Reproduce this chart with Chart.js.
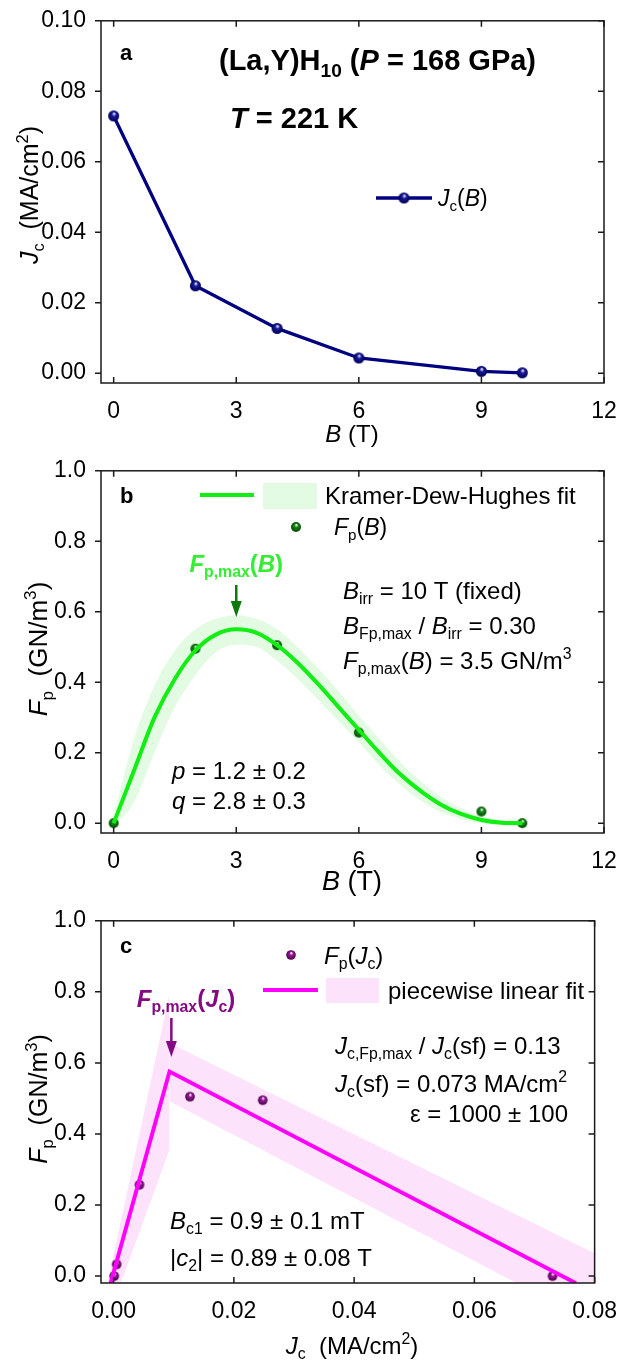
<!DOCTYPE html>
<html>
<head>
<meta charset="utf-8">
<script src="https://cdn.jsdelivr.net/npm/chart.js@4.4.1/dist/chart.umd.min.js"></script>
<style>
  html, body { margin: 0; padding: 0; background: #fff; }
  #wrap { position: relative; width: 624px; height: 1360px; }
  canvas { position: absolute; left: 0; }
</style>
</head>
<body>
<div id="wrap">
  <canvas id="chart-a" width="624" height="450" style="top:0"></canvas>
  <canvas id="chart-b" width="624" height="450" style="top:450px"></canvas>
  <canvas id="chart-c" width="624" height="460" style="top:900px"></canvas>
</div>
<script>
// measured data
const FIELD = [0, 2, 4, 6, 9, 10];
const JC = [0.073, 0.0248, 0.0127, 0.0043, 0.0005, 0.0001];
const FP = [0.0, 0.495, 0.505, 0.257, 0.033, 0.0];

// Kramer-Dew-Hughes fit curve and its band
const FIT_B = [0, 0.5, 1, 1.5, 2, 2.5, 3, 3.5, 4, 4.5, 5, 5.5, 6, 6.5, 7, 7.5, 8, 8.5, 9, 9.5, 10];
const FIT_FP = [0, 0.15, 0.3, 0.41, 0.49, 0.535, 0.55, 0.54, 0.505, 0.455, 0.395, 0.33, 0.265, 0.2, 0.14, 0.092, 0.053, 0.026, 0.009, 0.0014, 0];
const BAND_B_HI = [0.02, 0.24, 0.39, 0.49, 0.55, 0.58, 0.59, 0.58, 0.55, 0.5, 0.44, 0.375, 0.305, 0.24, 0.175, 0.12, 0.075, 0.042, 0.02, 0.008, 0.005];
const BAND_B_LO = [-0.01, 0.06, 0.2, 0.33, 0.42, 0.485, 0.506, 0.5, 0.46, 0.41, 0.35, 0.29, 0.23, 0.165, 0.11, 0.065, 0.032, 0.012, 0.0, -0.006, -0.008];

// piecewise linear fit and its band
const FIT_JC = [-0.0005, 0.0093, 0.0769];
const FIT_JC_FP = [-0.02, 0.5757, -0.02];
const RISE_JC = [-0.001, 0.0093];
const RISE_HI = [-0.02, 0.795];
const RISE_LO = [-0.122, 0.356];
const FALL_JC = [0.0093, 0.0805];
const FALL_HI = [0.656, 0.06];
const FALL_LO = [0.492, -0.139];

// tick labels
const TICKS_B = [0, 3, 6, 9, 12];
const TICKS_JC_A = [0, 0.02, 0.04, 0.06, 0.08, 0.1];
const TICKS_FP = [0, 0.2, 0.4, 0.6, 0.8, 1.0];
const TICKS_JC = [0, 0.02, 0.04, 0.06, 0.08];

const FAMILY = '"Liberation Sans", Arial, Helvetica, sans-serif';
const NAVY = '#000080';
const LIME = '#11ee11';
const GREEN_BAND = '#e3fbe3';
const MAGENTA = '#ff00ff';
const PURPLE = '#840a84';
const PINK_BAND = '#fde2fb';

const pts = (xs, ys) => xs.map((x, i) => ({ x, y: ys[i] }));

const ball = (base, dark, r) => {
  const c = document.createElement('canvas');
  const s = Math.ceil(r * 2 + 2);
  c.width = c.height = s;
  const g = c.getContext('2d');
  const m = s / 2;
  const grad = g.createRadialGradient(m + r * 0.1, m - r * 0.45, r * 0.05, m, m, r);
  grad.addColorStop(0, '#ffffff');
  grad.addColorStop(0.35, base);
  grad.addColorStop(1, dark);
  g.fillStyle = grad;
  g.beginPath();
  g.arc(m, m, r, 0, Math.PI * 2);
  g.fill();
  return c;
};

const BALL_NAVY = ball('#1a1aa0', '#000050', 5.5);
const BALL_GREEN = ball('#138a13', '#064a06', 5);
const BALL_PURPLE = ball('#9a1a9a', '#4a004a', 4.8);

// text with italics, sub- and superscripts
const drawRich = (ctx, parts, x, y, size, opt = {}) => {
  const items = parts.map(([t, s = '']) => {
    const st = s.split(' ');
    const small = st.includes('sub') || st.includes('sup');
    const fs = small ? size * 0.66 : size;
    const font = `${st.includes('i') ? 'italic ' : ''}${st.includes('b') ? 'bold ' : ''}${fs}px ${FAMILY}`;
    ctx.font = font;
    const w = ctx.measureText(t).width;
    const dy = st.includes('sub') ? size * 0.22 : st.includes('sup') ? -size * 0.42 : 0;
    return { t, font, w, dy };
  });
  const total = items.reduce((a, it) => a + it.w, 0);
  ctx.save();
  ctx.fillStyle = opt.color || '#000';
  ctx.textBaseline = 'alphabetic';
  ctx.textAlign = 'left';
  ctx.translate(x, y);
  if (opt.rotate) ctx.rotate(-Math.PI / 2);
  let cx = opt.align === 'center' ? -total / 2 : opt.align === 'right' ? -total : 0;
  const base = size * 0.36;
  items.forEach(it => {
    ctx.font = it.font;
    ctx.fillText(it.t, cx, base + it.dy);
    cx += it.w;
  });
  ctx.restore();
};

const arrowDown = (ctx, x, y0, y1, color) => {
  ctx.save();
  ctx.strokeStyle = color;
  ctx.fillStyle = color;
  ctx.lineWidth = 2.5;
  ctx.beginPath();
  ctx.moveTo(x, y0);
  ctx.lineTo(x, y1 - 12);
  ctx.stroke();
  ctx.beginPath();
  ctx.moveTo(x - 5.5, y1 - 16);
  ctx.lineTo(x + 5.5, y1 - 16);
  ctx.lineTo(x, y1);
  ctx.closePath();
  ctx.fill();
  ctx.restore();
};

const frame = {
  id: 'frame',
  afterDatasetsDraw(chart) {
    const { ctx, chartArea: a, scales: { x, y } } = chart;
    ctx.save();
    ctx.strokeStyle = '#1a1a1a';
    ctx.lineWidth = 1.5;
    ctx.strokeRect(a.left, a.top, a.right - a.left, a.bottom - a.top);
    ctx.beginPath();
    x.ticks.forEach(t => {
      const px = x.getPixelForValue(t.value);
      ctx.moveTo(px, a.bottom); ctx.lineTo(px, a.bottom - 6);
      ctx.moveTo(px, a.top); ctx.lineTo(px, a.top + 6);
    });
    y.ticks.forEach(t => {
      const py = y.getPixelForValue(t.value);
      ctx.moveTo(a.left - 6, py); ctx.lineTo(a.left, py);
      ctx.moveTo(a.right, py); ctx.lineTo(a.right - 6, py);
    });
    ctx.stroke();
    ctx.restore();
  },
};

const makeOptions = ({ xMin, xMax, yMin, yMax, xTicks, yTicks, xFmt, yFmt, top, xHeight }) => ({
  responsive: false,
  animation: false,
  events: [],
  devicePixelRatio: 1,
  layout: { padding: { top, right: 20, left: 0, bottom: 0 } },
  plugins: { legend: { display: false }, tooltip: { enabled: false } },
  scales: {
    x: {
      type: 'linear',
      min: xMin,
      max: xMax,
      grid: { display: false },
      border: { display: false },
      afterBuildTicks: s => { s.ticks = xTicks.map(v => ({ value: v })); },
      afterFit: s => { s.height = xHeight; },
      ticks: { font: { family: FAMILY, size: 23 }, color: '#000', padding: 7, maxRotation: 0, callback: xFmt },
    },
    y: {
      type: 'linear',
      min: yMin,
      max: yMax,
      grid: { display: false },
      border: { display: false },
      afterBuildTicks: s => { s.ticks = yTicks.map(v => ({ value: v })); },
      afterFit: s => { s.width = 101; },
      ticks: { font: { family: FAMILY, size: 23 }, color: '#000', padding: 7, callback: yFmt },
    },
  },
});

// panel a
new Chart(document.getElementById('chart-a'), {
  type: 'line',
  data: {
    datasets: [{
      data: pts(FIELD, JC),
      borderColor: NAVY,
      borderWidth: 3.3,
      pointStyle: BALL_NAVY,
      pointRadius: 5.5,
      tension: 0,
      clip: false,
    }],
  },
  options: makeOptions({
    xMin: -0.31, xMax: 12, yMin: -0.0028, yMax: 0.1,
    xTicks: TICKS_B, yTicks: TICKS_JC_A,
    xFmt: v => String(v), yFmt: v => v.toFixed(2),
    top: 16, xHeight: 67,
  }),
  plugins: [frame, {
    id: 'notes-a',
    afterDraw(chart) {
      const { ctx } = chart;
      drawRich(ctx, [['a', 'b']], 120, 52, 22);
      drawRich(ctx, [['(La,Y)H', 'b'], ['10', 'b sub'], [' (', 'b'], ['P', 'b i'], [' = 168 GPa)', 'b']], 219, 60, 29);
      drawRich(ctx, [['T', 'b i'], [' = 221 K', 'b']], 230, 118, 29);
      ctx.save();
      ctx.strokeStyle = NAVY;
      ctx.lineWidth = 3.3;
      ctx.beginPath(); ctx.moveTo(376, 198); ctx.lineTo(432, 198); ctx.stroke();
      ctx.drawImage(BALL_NAVY, 404 - BALL_NAVY.width / 2, 198 - BALL_NAVY.height / 2);
      ctx.restore();
      drawRich(ctx, [['J', 'i'], ['c', 'sub'], ['('], ['B', 'i'], [')']], 438, 198, 23);
      drawRich(ctx, [['J', 'i'], ['c', 'sub'], ['  (MA/cm'], ['2', 'sup'], [')']], 29, 195, 25, { rotate: true, align: 'center' });
      drawRich(ctx, [['B', 'i'], [' (T)']], 352, 433, 24, { align: 'center' });
    },
  }],
});

// panel b
new Chart(document.getElementById('chart-b'), {
  type: 'line',
  data: {
    datasets: [
      { data: pts(FIT_B, BAND_B_HI), fill: '+1', backgroundColor: GREEN_BAND, borderWidth: 0, pointRadius: 0, cubicInterpolationMode: 'monotone', order: 4 },
      { data: pts(FIT_B, BAND_B_LO), fill: false, borderWidth: 0, pointRadius: 0, cubicInterpolationMode: 'monotone', order: 3 },
      { data: pts(FIELD, FP), showLine: false, pointStyle: BALL_GREEN, pointRadius: 5, order: 2, clip: false },
      { data: pts(FIT_B, FIT_FP), borderColor: LIME, borderWidth: 4, pointRadius: 0, cubicInterpolationMode: 'monotone', order: 1 },
    ],
  },
  options: makeOptions({
    xMin: -0.31, xMax: 12, yMin: -0.028, yMax: 1.0,
    xTicks: TICKS_B, yTicks: TICKS_FP,
    xFmt: v => String(v), yFmt: v => v.toFixed(1),
    top: 15, xHeight: 67,
  }),
  plugins: [frame, {
    id: 'notes-b',
    afterDraw(chart) {
      const { ctx, scales: { x } } = chart;
      drawRich(ctx, [['b', 'b']], 120, 45, 22);
      ctx.save();
      ctx.strokeStyle = LIME;
      ctx.lineWidth = 4;
      ctx.beginPath(); ctx.moveTo(200, 45); ctx.lineTo(254, 45); ctx.stroke();
      ctx.fillStyle = GREEN_BAND;
      ctx.fillRect(263, 33, 54, 26);
      ctx.drawImage(BALL_GREEN, 296 - BALL_GREEN.width / 2, 77 - BALL_GREEN.height / 2);
      ctx.restore();
      drawRich(ctx, [['Kramer-Dew-Hughes fit']], 325, 45, 24);
      drawRich(ctx, [['F', 'i'], ['p', 'sub'], ['('], ['B', 'i'], [')']], 334, 77, 23);
      const xPeak = x.getPixelForValue(3);
      drawRich(ctx, [['F', 'b i'], ['p,max', 'b sub'], ['(', 'b'], ['B', 'b i'], [')', 'b']], xPeak, 113, 24, { align: 'center', color: '#33ee33' });
      arrowDown(ctx, xPeak, 135, 167, '#0b7a0b');
      drawRich(ctx, [['B', 'i'], ['irr', 'sub'], [' = 10 T (fixed)']], 343, 140, 24);
      drawRich(ctx, [['B', 'i'], ['Fp,max', 'sub'], [' / '], ['B', 'i'], ['irr', 'sub'], [' = 0.30']], 343, 175, 24);
      drawRich(ctx, [['F', 'i'], ['p,max', 'sub'], ['('], ['B', 'i'], [') = 3.5 GN/m'], ['3', 'sup']], 343, 210, 24);
      drawRich(ctx, [['p', 'i'], [' = 1.2 ± 0.2']], 172, 320, 24);
      drawRich(ctx, [['q', 'i'], [' = 2.8 ± 0.3']], 172, 350, 24);
      drawRich(ctx, [['F', 'i'], ['p', 'sub'], ['  (GN/m'], ['3', 'sup'], [')']], 38, 199, 26, { rotate: true, align: 'center' });
      drawRich(ctx, [['B', 'i'], [' (T)']], 352, 430, 27, { align: 'center' });
    },
  }],
});

// panel c
new Chart(document.getElementById('chart-c'), {
  type: 'line',
  data: {
    datasets: [
      { data: pts(RISE_JC, RISE_HI), fill: '+1', backgroundColor: PINK_BAND, borderWidth: 0, pointRadius: 0, order: 6 },
      { data: pts(RISE_JC, RISE_LO), fill: false, borderWidth: 0, pointRadius: 0, order: 5 },
      { data: pts(FALL_JC, FALL_HI), fill: '+1', backgroundColor: PINK_BAND, borderWidth: 0, pointRadius: 0, order: 4 },
      { data: pts(FALL_JC, FALL_LO), fill: false, borderWidth: 0, pointRadius: 0, order: 3 },
      { data: pts(JC, FP), showLine: false, pointStyle: BALL_PURPLE, pointRadius: 4.8, order: 2, clip: false },
      { data: pts(FIT_JC, FIT_JC_FP), borderColor: MAGENTA, borderWidth: 4, pointRadius: 0, tension: 0, order: 1 },
    ],
  },
  options: makeOptions({
    xMin: -0.0021, xMax: 0.08, yMin: -0.0195, yMax: 1.0,
    xTicks: TICKS_JC, yTicks: TICKS_FP,
    xFmt: v => v.toFixed(2), yFmt: v => v.toFixed(1),
    top: 15, xHeight: 77,
  }),
  plugins: [frame, {
    id: 'notes-c',
    afterDraw(chart) {
      const { ctx, scales: { x } } = chart;
      drawRich(ctx, [['c', 'b']], 120, 45, 22);
      ctx.save();
      ctx.drawImage(BALL_PURPLE, 291 - BALL_PURPLE.width / 2, 55 - BALL_PURPLE.height / 2);
      ctx.strokeStyle = MAGENTA;
      ctx.lineWidth = 4;
      ctx.beginPath(); ctx.moveTo(263, 90); ctx.lineTo(318, 90); ctx.stroke();
      ctx.fillStyle = PINK_BAND;
      ctx.fillRect(326, 78, 53, 25);
      ctx.restore();
      drawRich(ctx, [['F', 'i'], ['p', 'sub'], ['('], ['J', 'i'], ['c', 'sub'], [')']], 324, 55, 24);
      drawRich(ctx, [['piecewise linear fit']], 388, 90, 24);
      drawRich(ctx, [['F', 'b i'], ['p,max', 'b sub'], ['(', 'b'], ['J', 'b i'], ['c', 'b sub'], [')', 'b']], 186, 98, 24, { align: 'center', color: PURPLE });
      arrowDown(ctx, x.getPixelForValue(0.0096), 118, 157, PURPLE);
      drawRich(ctx, [['J', 'i'], ['c,Fp,max', 'sub'], [' / '], ['J', 'i'], ['c', 'sub'], ['(sf) = 0.13']], 335, 145, 24);
      drawRich(ctx, [['J', 'i'], ['c', 'sub'], ['(sf) = 0.073 MA/cm'], ['2', 'sup']], 335, 183, 24);
      drawRich(ctx, [['ε = 1000 ± 100']], 410, 213, 24);
      drawRich(ctx, [['B', 'i'], ['c1', 'sub'], [' = 0.9 ± 0.1 mT']], 170, 320, 24);
      drawRich(ctx, [['|'], ['c', 'i'], ['2', 'sub'], ['| = 0.89 ± 0.08 T']], 170, 357, 24);
      drawRich(ctx, [['F', 'i'], ['p', 'sub'], ['  (GN/m'], ['3', 'sup'], [')']], 38, 199, 25, { rotate: true, align: 'center' });
      drawRich(ctx, [['J', 'i'], ['c', 'sub'], ['  (MA/cm'], ['2', 'sup'], [')']], 352, 445, 24, { align: 'center' });
    },
  }],
});
</script>
</body>
</html>
